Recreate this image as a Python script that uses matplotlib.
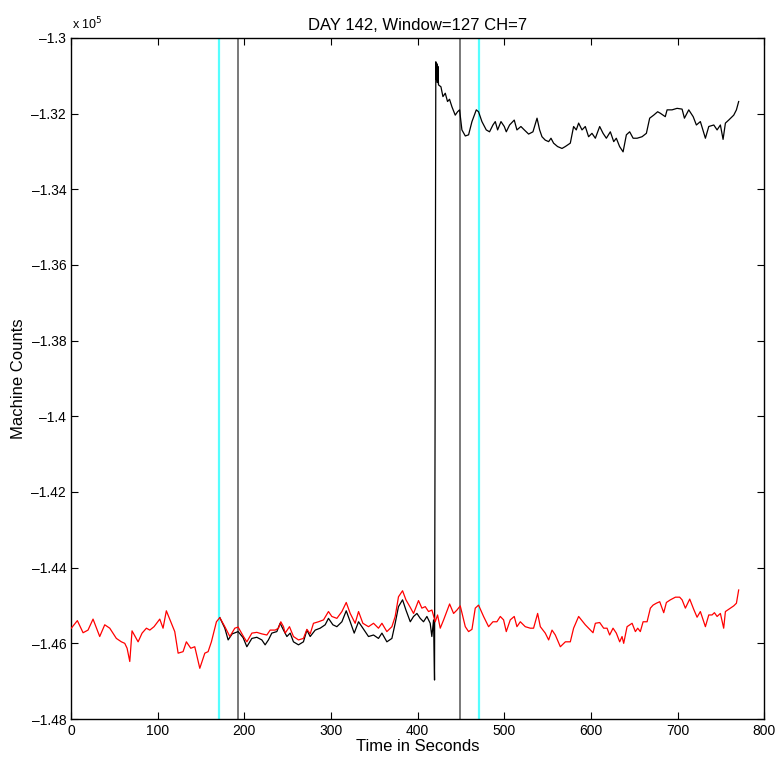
import numpy as np
import matplotlib
matplotlib.use("Agg")
import matplotlib.pyplot as plt
from matplotlib.ticker import FuncFormatter

# values, y in units of 1e5 machine counts
RED_T = [0.3, 7.3, 13.9, 19.6, 25.4, 33.1, 38.9, 44.7, 52.3, 58.1, 62.0, 64.7, 67.8, 70.4,
         77.4, 82.0, 87.0, 90.9, 95.8, 102.4, 106.2, 110.0, 115.8, 119.7, 123.6, 129.3,
         133.1, 138.2, 142.8, 148.6, 154.4, 158.2, 162.0, 167.8, 171.7, 177.5, 183.3,
         189.0, 192.8, 199.0, 202.9, 208.7, 214.4, 220.2, 226.0, 229.8, 235.6, 239.4,
         242.1, 245.2, 247.1, 252.1, 256.7, 262.5, 268.2, 272.2, 276.0, 279.8, 285.6,
         291.4, 297.1, 301.0, 306.8, 312.6, 317.6, 322.2, 327.9, 331.8, 336.8, 343.3,
         349.1, 354.8, 358.8, 364.5, 370.3, 374.1, 377.9, 382.6, 386.5, 391.5, 395.3,
         401.0, 404.9, 408.8, 412.6, 416.5, 420.3, 423.0, 426.1, 430.0, 436.9, 441.5,
         445.4, 449.2, 455.0, 458.8, 462.7, 466.5, 470.3, 476.1, 481.9, 486.9, 491.5,
         495.4, 499.2, 502.3, 506.9, 511.5, 514.6, 518.5, 524.2, 530.0, 533.8, 538.5,
         541.6, 547.3, 551.2, 555.1, 558.9, 564.7, 570.5, 576.2, 580.0, 585.8, 593.5,
         597.3, 602.4, 605.1, 610.1, 614.7, 618.6, 621.6, 625.5, 629.3, 633.2, 635.9,
         637.8, 641.7, 647.5, 651.3, 654.0, 657.0, 660.2, 664.8, 668.6, 671.7, 675.5,
         679.4, 684.0, 687.1, 691.7, 697.5, 702.4, 705.2, 709.0, 714.0, 718.6, 722.5,
         726.3, 732.1, 736.0, 739.8, 742.5, 745.6, 749.4, 753.2, 755.2, 761.0, 764.8,
         767.9, 770.5]
RED_Y = [-1.4560, -1.4540, -1.4572, -1.4565, -1.4536, -1.4582, -1.4551, -1.4560, -1.4587,
         -1.4596, -1.4600, -1.4613, -1.4648, -1.4567, -1.4596, -1.4573, -1.4560, -1.4565,
         -1.4556, -1.4536, -1.4560, -1.4514, -1.4547, -1.4569, -1.4626, -1.4622, -1.4596,
         -1.4613, -1.4609, -1.4666, -1.4626, -1.4622, -1.4596, -1.4543, -1.4532, -1.4556,
         -1.4582, -1.4560, -1.4557, -1.4582, -1.4596, -1.4573, -1.4571, -1.4575, -1.4578,
         -1.4565, -1.4565, -1.4560, -1.4543, -1.4556, -1.4573, -1.4556, -1.4582, -1.4591,
         -1.4587, -1.4563, -1.4575, -1.4547, -1.4543, -1.4538, -1.4516, -1.4529, -1.4534,
         -1.4516, -1.4492, -1.4521, -1.4547, -1.4516, -1.4547, -1.4556, -1.4547, -1.4560,
         -1.4547, -1.4569, -1.4556, -1.4529, -1.4477, -1.4461, -1.4485, -1.4505, -1.4521,
         -1.4487, -1.4507, -1.4503, -1.4516, -1.4512, -1.4543, -1.4525, -1.4560, -1.4538,
         -1.4496, -1.4521, -1.4512, -1.4501, -1.4556, -1.4569, -1.4563, -1.4507, -1.4499,
         -1.4529, -1.4556, -1.4543, -1.4543, -1.4529, -1.4538, -1.4569, -1.4538, -1.4529,
         -1.4556, -1.4543, -1.4556, -1.4560, -1.4560, -1.4521, -1.4556, -1.4573, -1.4591,
         -1.4565, -1.4578, -1.4609, -1.4596, -1.4596, -1.4560, -1.4529, -1.4551, -1.4560,
         -1.4572, -1.4547, -1.4545, -1.4560, -1.4560, -1.4578, -1.4560, -1.4573, -1.4596,
         -1.4582, -1.4600, -1.4556, -1.4547, -1.4569, -1.4560, -1.4569, -1.4543, -1.4543,
         -1.4507, -1.4499, -1.4494, -1.4490, -1.4519, -1.4492, -1.4485, -1.4478, -1.4478,
         -1.4485, -1.4507, -1.4483, -1.4510, -1.4531, -1.4516, -1.4556, -1.4525, -1.4525,
         -1.4519, -1.4529, -1.4521, -1.4560, -1.4516, -1.4507, -1.4501, -1.4494, -1.4459]

# black trace: identical to red before ~172 s, so only its own part is kept
BLACK_T = [171.7, 177.5, 181.3, 186.0, 192.8, 198.6, 202.9, 208.7, 214.4, 220.2, 224.0,
           227.8, 231.7, 237.5, 241.3, 245.2, 249.1, 252.9, 256.7, 262.5, 268.2, 272.2,
           276.0, 281.8, 287.5, 293.3, 297.1, 302.2, 306.8, 312.6, 317.6, 322.2, 326.8,
           331.8, 336.8, 343.3, 349.1, 354.8, 358.8, 364.5, 370.3, 374.1, 377.9, 382.6,
           386.5, 391.5, 395.3, 399.2, 403.0, 406.8, 410.7, 414.5, 416.4, 418.4, 419.5,
           421.0, 421.6, 422.2, 422.8, 423.4, 424.1, 426.9, 429.2, 431.9, 434.5, 436.8,
           439.6, 443.4, 446.1, 448.4, 451.1, 455.0, 458.8, 462.7, 467.7, 470.3, 474.2,
           479.2, 483.0, 486.9, 489.6, 492.3, 496.2, 500.0, 502.3, 506.1, 511.5, 514.6,
           519.2, 523.1, 528.1, 533.1, 537.8, 540.8, 543.5, 547.3, 551.2, 553.9, 556.9,
           561.5, 566.6, 570.4, 576.2, 580.0, 583.1, 585.8, 589.7, 593.5, 597.3, 601.2,
           605.1, 610.1, 614.0, 617.8, 622.4, 626.3, 629.3, 633.1, 637.1, 640.9, 644.7,
           648.7, 653.3, 659.0, 664.0, 667.8, 672.4, 677.0, 680.1, 685.8, 687.9, 693.6,
           699.4, 705.2, 707.9, 712.9, 718.0, 721.7, 726.3, 732.1, 736.0, 741.8, 745.6,
           749.4, 752.5, 755.2, 759.0, 764.8, 767.9, 770.5]
BLACK_Y = [-1.4532, -1.4560, -1.4591, -1.4575, -1.4569, -1.4585, -1.4609, -1.4587, -1.4584,
           -1.4591, -1.4604, -1.4591, -1.4573, -1.4569, -1.4547, -1.4565, -1.4582, -1.4573,
           -1.4596, -1.4604, -1.4596, -1.4565, -1.4582, -1.4565, -1.4560, -1.4551, -1.4534,
           -1.4551, -1.4556, -1.4543, -1.4514, -1.4543, -1.4573, -1.4543, -1.4560, -1.4582,
           -1.4578, -1.4587, -1.4573, -1.4596, -1.4587, -1.4547, -1.4503, -1.4485, -1.4512,
           -1.4543, -1.4529, -1.4521, -1.4534, -1.4543, -1.4529, -1.4547, -1.4582, -1.4538,
           -1.4697, -1.3063, -1.3110, -1.3068, -1.3118, -1.3075, -1.3124, -1.3129, -1.3155,
           -1.3146, -1.3168, -1.3162, -1.3182, -1.3204, -1.3195, -1.3190, -1.3243, -1.3259,
           -1.3256, -1.3221, -1.3190, -1.3195, -1.3221, -1.3243, -1.3248, -1.3230, -1.3221,
           -1.3243, -1.3221, -1.3234, -1.3248, -1.3230, -1.3217, -1.3243, -1.3234, -1.3243,
           -1.3254, -1.3248, -1.3212, -1.3243, -1.3261, -1.3270, -1.3274, -1.3265, -1.3278,
           -1.3287, -1.3292, -1.3287, -1.3278, -1.3234, -1.3243, -1.3225, -1.3243, -1.3234,
           -1.3261, -1.3252, -1.3265, -1.3234, -1.3252, -1.3265, -1.3248, -1.3274, -1.3265,
           -1.3287, -1.3301, -1.3256, -1.3248, -1.3265, -1.3265, -1.3261, -1.3252, -1.3212,
           -1.3204, -1.3195, -1.3199, -1.3208, -1.3190, -1.3190, -1.3186, -1.3188, -1.3212,
           -1.3190, -1.3208, -1.3230, -1.3221, -1.3265, -1.3234, -1.3230, -1.3243, -1.3230,
           -1.3268, -1.3225, -1.3217, -1.3204, -1.3190, -1.3168]

CYAN_LINES = [171.0, 470.3]
GRAY_LINES = [192.8, 449.2]


def ytick_fmt(v, pos):
    s = f"{abs(v):.2f}".rstrip("0").rstrip(".")
    return ("\u2013" + s) if v < 0 else s


plt.rcParams["font.family"] = ["Liberation Sans", "DejaVu Sans"]

fig = plt.figure(figsize=(7.78, 7.64), dpi=100)
ax = fig.add_axes([0.0913, 0.0589, 0.891, 0.8914])

for x in CYAN_LINES:
    ax.axvline(x, color="#55ffff", lw=1.6, zorder=1)
for x in GRAY_LINES:
    ax.axvline(x, color="#6e6e6e", lw=1.3, zorder=1)

ax.plot(BLACK_T, BLACK_Y, color="black", lw=0.9, zorder=2)
ax.plot(RED_T, RED_Y, color="red", lw=0.9, zorder=3)

ax.set_xlim(0, 800)
ax.set_ylim(-1.48, -1.30)
ax.set_xticks(np.arange(0, 801, 100))
ax.set_yticks(np.arange(-1.48, -1.299, 0.02))
ax.yaxis.set_major_formatter(FuncFormatter(ytick_fmt))
ax.tick_params(direction="in", top=True, right=True, length=5, width=0.8, labelsize=10)
for s in ax.spines.values():
    s.set_linewidth(1.0)

ax.set_title("DAY 142, Window=127 CH=7", fontsize=12, pad=6)
ax.set_xlabel("Time in Seconds", fontsize=12, labelpad=1)
ax.set_ylabel("Machine Counts", fontsize=12, labelpad=4)
fig.text(0.0925, 0.958, r"x 10$^{5}$", fontsize=9, ha="left", va="bottom")

fig.savefig("out.png", dpi=100)
